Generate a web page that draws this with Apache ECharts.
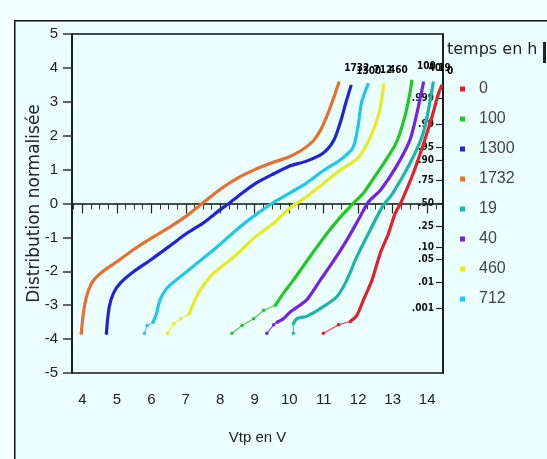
<!DOCTYPE html>
<html>
<head>
<meta charset="utf-8">
<script src="https://cdn.jsdelivr.net/npm/echarts@6/dist/echarts.min.js"></script>
<style>
html,body{margin:0;padding:0;background:#f1ffff;}
#chart{width:547px;height:459px;}
</style>
</head>
<body>
<div id="chart"></div>
<script>
// ---- data ----
const seriesNames = ['0','100','1300','1732','19','40','460','712'];

const vtp_0    = [10.99,11.43,11.77,11.96,12.15,12.40,12.64,12.88,13.07,13.25,13.60,13.90,14.14,14.33,14.43];
const z_0      = [-3.83,-3.58,-3.48,-3.30,-2.85,-2.26,-1.47,-0.88,-0.30,0.05,0.90,1.78,2.56,3.25,3.50];

const vtp_100  = [8.34,8.63,8.97,9.26,9.60,9.83,10.12,10.60,11.10,11.50,11.90,12.15,12.45,12.75,13.10,13.35,13.50,13.56];
const z_100    = [-3.83,-3.60,-3.40,-3.15,-3.00,-2.65,-2.26,-1.57,-0.88,-0.38,0.05,0.30,0.75,1.20,1.78,2.55,3.25,3.65];

const vtp_1300 = [4.70,4.72,4.78,4.90,5.10,5.50,6.00,6.50,7.00,7.50,8.00,8.25,8.50,9.00,9.50,10.00,10.50,11.00,11.30,11.50,11.65,11.80];
const z_1300   = [-3.83,-3.55,-3.05,-2.65,-2.35,-2.00,-1.65,-1.28,-0.90,-0.58,-0.18,0.00,0.20,0.58,0.85,1.10,1.25,1.50,1.88,2.45,3.00,3.50];

const vtp_1732 = [3.97,3.99,4.05,4.15,4.30,4.60,5.00,5.50,6.00,6.50,7.00,7.50,8.00,8.50,9.00,9.50,10.00,10.40,10.70,10.90,11.10,11.30,11.45];
const z_1732   = [-3.83,-3.60,-3.10,-2.65,-2.30,-2.00,-1.72,-1.35,-1.02,-0.72,-0.38,0.02,0.42,0.75,1.00,1.20,1.38,1.60,1.85,2.15,2.60,3.15,3.60];

const vtp_19   = [10.12,10.12,10.22,10.50,10.90,11.38,11.67,11.96,12.35,12.70,13.00,13.50,13.85,14.00,14.14,14.18];
const z_19     = [-3.83,-3.55,-3.40,-3.33,-3.10,-2.75,-2.26,-1.57,-0.78,-0.10,0.30,1.18,1.97,2.56,3.35,3.60];

const vtp_40   = [9.35,9.55,9.65,9.83,10.03,10.50,10.90,11.30,11.67,12.05,12.30,12.65,13.10,13.50,13.70,13.85,13.90];
const z_40     = [-3.83,-3.58,-3.50,-3.40,-3.20,-2.85,-2.26,-1.67,-1.08,-0.40,0.05,0.40,1.08,1.87,2.65,3.35,3.60];

const vtp_460  = [6.47,6.65,6.85,7.10,7.20,7.42,7.80,8.40,9.00,9.50,10.00,10.50,11.00,11.50,12.00,12.35,12.60,12.75];
const z_460    = [-3.83,-3.55,-3.40,-3.25,-3.00,-2.55,-2.06,-1.57,-1.00,-0.62,-0.15,0.20,0.60,1.00,1.35,1.95,2.65,3.55];

const vtp_712  = [5.80,5.88,6.05,6.15,6.25,6.45,6.85,7.40,8.00,8.50,9.00,9.50,10.00,10.50,11.00,11.50,11.85,12.00,12.10,12.30];
const z_712    = [-3.83,-3.60,-3.50,-3.25,-2.85,-2.50,-2.15,-1.70,-1.20,-0.75,-0.35,0.00,0.30,0.60,0.98,1.30,1.65,2.30,3.00,3.55];

const xTickValues = [4,5,6,7,8,9,10,11,12,13,14];
const xMinorTickValues = [3.75,4.25,4.5,4.75,5.25,5.5,5.75,6.25,6.5,6.75,7.25,7.5,7.75,8.25,8.5,8.75,9.25,9.5,9.75,10.25,10.5,10.75,11.25,11.5,11.75,12.25,12.5,12.75,13.25,13.5,13.75,14.25];
const probZ      = [3.09,2.326,1.645,1.2816,0.674,0,-0.674,-1.2816,-1.645,-2.326,-3.09];
const probLabels = ['.999','.99','.95','.90','.75','.50','.25','.10','.05','.01','.001'];

// ---- styles ----
const colors = {'0':'#e4202c','100':'#22c822','1300':'#2222d6','1732':'#e8702e','19':'#1fb5a6','40':'#7422e6','460':'#e4ec22','712':'#22c6e6'};
const tailCount = {'0':3,'100':5,'1300':1,'1732':1,'19':2,'40':3,'460':4,'712':3};
const dataMap = {'0':[vtp_0,z_0],'100':[vtp_100,z_100],'1300':[vtp_1300,z_1300],'1732':[vtp_1732,z_1732],
                 '19':[vtp_19,z_19],'40':[vtp_40,z_40],'460':[vtp_460,z_460],'712':[vtp_712,z_712]};

const series = [];
seriesNames.forEach(function(name){
  const xs = dataMap[name][0], ys = dataMap[name][1];
  const pts = xs.map(function(x,i){return [x, ys[i]];});
  const k = tailCount[name];
  series.push({
    name: name, type: 'line', xAxisIndex: 0, yAxisIndex: 0,
    data: pts.slice(k-1), smooth: 0.25, showSymbol: false, silent: true,
    itemStyle: {color: colors[name]},
    lineStyle: {color: colors[name], width: 3.2},
    endLabel: {show: true, formatter: name, offset: [-3, -13], color: '#000',
               fontFamily: 'DejaVu Sans Condensed', fontWeight: 'bold', fontSize: 10},
    z: 3
  });
  series.push({
    name: name, type: 'line', xAxisIndex: 0, yAxisIndex: 0,
    data: pts.slice(0, k), showSymbol: true, symbol: 'circle', symbolSize: 3.5, silent: true,
    itemStyle: {color: colors[name]},
    lineStyle: {color: colors[name], width: 1.2, opacity: 0.8},
    z: 2
  });
});

const chart = echarts.init(document.getElementById('chart'), null, {renderer: 'canvas'});
chart.setOption({
  backgroundColor: '#f1ffff',
  animation: false,
  graphic: [
    {type: 'rect', left: 14, top: 20, shape: {width: 600, height: 600},
     style: {fill: '#ebffff', stroke: '#111', lineWidth: 1.5}, z: -10, silent: true},
    {type: 'rect', left: 543, top: 42, shape: {width: 3, height: 21}, style: {fill: '#222'}, z: 10},
    {type: 'text', left: 447, top: 42, style: {text: 'temps en h', fontSize: 16,
      fontFamily: 'DejaVu Sans', fill: '#222'}, z: 10}
  ],
  legend: {
    data: seriesNames, orient: 'vertical', left: 455, top: 76, itemGap: 14,
    icon: 'rect', itemWidth: 5, itemHeight: 5,
    textStyle: {fontSize: 16, color: '#444', fontFamily: 'Liberation Sans', padding: [0,0,0,9]},
    selectedMode: false
  },
  grid: {left: 72, top: 34, width: 371, height: 339, show: true, borderColor: '#111', borderWidth: 1.5, backgroundColor: 'transparent'},
  xAxis: [
    {type: 'value', min: 3.7, max: 14.46, position: 'bottom',
     name: 'Vtp en V', nameLocation: 'middle', nameGap: 57,
     nameTextStyle: {fontSize: 15, color: '#222', fontFamily: 'Liberation Sans'},
     axisLine: {show: true, lineStyle: {color: '#111', width: 1.5}},
     axisTick: {show: true, customValues: xTickValues, length: 10, lineStyle: {color: '#222', width: 1.2}},
     axisLabel: {show: true, customValues: xTickValues, margin: 19, fontSize: 15, color: '#222', fontFamily: 'Liberation Sans'},
     splitLine: {show: false}},
    {type: 'value', min: 3.7, max: 14.46, position: 'bottom',
     axisLine: {show: false},
     axisTick: {show: true, customValues: xMinorTickValues, length: 6, lineStyle: {color: '#333', width: 1}},
     axisLabel: {show: false}, splitLine: {show: false}}
  ],
  yAxis: [
    {type: 'value', min: -5, max: 5, interval: 1, position: 'left',
     name: 'Distribution normalisée', nameLocation: 'middle', nameGap: 29, nameMoveOverlap: false,
     nameTextStyle: {fontSize: 17, color: '#222', fontFamily: 'DejaVu Sans'},
     axisLine: {show: true, lineStyle: {color: '#111', width: 1.5}},
     axisTick: {show: true, length: 9, lineStyle: {color: '#333', width: 1.5}},
     axisLabel: {margin: 14, fontSize: 15, color: '#222', fontFamily: 'Liberation Sans'},
     splitLine: {show: false}},
    {type: 'value', min: -5, max: 5, position: 'right',
     axisLine: {show: true, lineStyle: {color: '#111', width: 1.5}},
     axisTick: {show: true, inside: true, length: 7, customValues: probZ, lineStyle: {color: '#222', width: 1.2}},
     axisLabel: {show: true, inside: true, margin: 9, customValues: probZ, fontSize: 10, color: '#111',
       fontFamily: 'DejaVu Sans Condensed', fontWeight: 'bold',
       formatter: function(v){
         let best = 0, bd = 1e9;
         probZ.forEach(function(p,i){ const d = Math.abs(p - v); if (d < bd) {bd = d; best = i;} });
         return probLabels[best];
       }},
     splitLine: {show: false}}
  ],
  series: series
});
</script>
</body>
</html>
